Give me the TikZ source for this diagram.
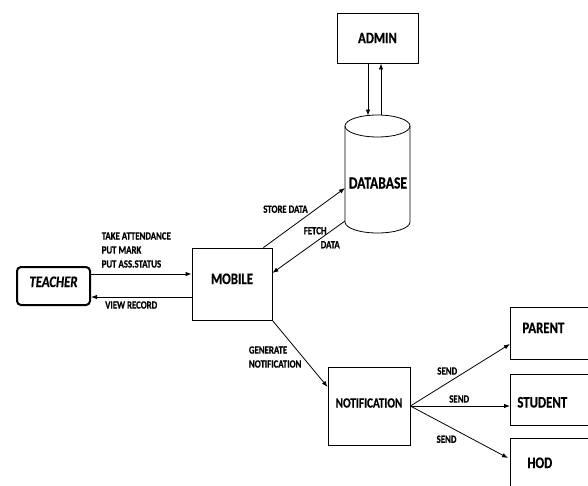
\documentclass[tikz,border=0pt]{standalone}
\usepackage{fontspec}
\setmainfont{Carlito}[FakeStretch=0.8, BoldFeatures={FakeBold=0.6}, BoldItalicFeatures={FakeBold=0.6}]
\usetikzlibrary{arrows.meta,calc}
\tikzset{
  box/.style={draw, line width=0.8, inner sep=0pt, font=\bfseries\fontsize{16}{18}\selectfont},
  arr/.style={line width=0.8, -{Latex[length=6pt,width=4.5pt]}},
  lbl/.style={font=\bfseries\fontsize{11}{14}\selectfont, inner sep=1pt},
}
\begin{document}
\begin{tikzpicture}[x=1pt,y=1pt,yscale=-1,xscale=1]
      \useasboundingbox (0,0) rectangle (588,485);
      \clip (0,0) rectangle (588,485);

      %Shape: Rounded Rect
      \node [box, rounded corners=4, line width=2, minimum width=73, minimum height=38, text height=10pt, text depth=8pt, font=\bfseries\itshape\fontsize{16}{18}\selectfont] (teacher) at (53.5,286) {TEACHER};
      %Shape: Rectangle
      \node [box, minimum width=80, minimum height=72, text height=10pt, text depth=10pt] (mobile) at (232,284) {MOBILE};
      %Shape: Rectangle
      \node [box, minimum width=81, minimum height=50] (admin) at (377.5,38) {ADMIN};
      %Shape: Rectangle
      \node [box, minimum width=82, minimum height=78, text height=9pt, text depth=6pt, font=\bfseries\fontsize{14}{16}\selectfont] (notif) at (369,406) {NOTIFICATION};
      %Shape: Rectangle
      \node [box, anchor=west, minimum width=100, minimum height=52, text width=76, inner xsep=12, text height=10pt, text depth=10pt, align=left] (parent) at (510,333) {PARENT};
      %Shape: Rectangle
      \node [box, anchor=west, minimum width=100, minimum height=51, text width=86, inner xsep=7, text height=16pt, text depth=0pt, align=left] (student) at (510,399.5) {STUDENT};
      %Shape: Rectangle
      \node [box, anchor=west, minimum width=100, minimum height=54, text width=66, inner xsep=17, text height=10pt, text depth=4pt, align=left] (hod) at (510,465) {HOD};

      %Shape: Can
      \draw [line width=0.8] (345,126) -- (345,222) arc [start angle=180, end angle=0, x radius=32.5, y radius=11] -- (410,126);
      \draw [line width=0.8] (377.5,126) ellipse [x radius=32.5, y radius=11];
      % Text Node
      \node [font=\bfseries\fontsize{17}{19}\selectfont] (db) at (378,183) {DATABASE};
      \coordinate (dbin) at (345,188);
      \coordinate (dbout) at (345,221);
      \coordinate (dbtopa) at (368,115.5);
      \coordinate (dbtopb) at (381,115);

      %Straight Lines
      \draw [arr] ($(teacher.east)+(0,-12)$) -- node [lbl, pos=0.45, above=5pt, align=left] {TAKE ATTENDANCE\\PUT MARK\\PUT ASS.STATUS} ($(mobile.west)+(0,-10)$);
      %Straight Lines
      \draw [arr] ($(mobile.west)+(0,13)$) -- node [lbl, below=3pt, pos=0.6] {VIEW RECORD} ($(teacher.east)+(0,11)$);
      %Straight Lines
      \draw [arr] ($(mobile.north east)+(-9,0)$) -- node [lbl, pos=0.56, anchor=south east] {STORE DATA} (dbin);
      %Straight Lines
      \draw [arr] (dbout) -- node [lbl, pos=0.32, align=left] {FETCH\\\hspace*{17pt}DATA} ($(mobile.east)+(0,-11)$);
      %Straight Lines
      \draw [arr] ($(admin.south)+(-9.5,0)$) -- (dbtopa);
      %Straight Lines
      \draw [arr] (dbtopb) -- ($(admin.south)+(3.5,0)$);
      %Straight Lines
      \draw [arr] (mobile.south east) -- node [lbl, pos=0.55, anchor=east, align=left] {GENERATE\\NOTIFICATION} ($(notif.west)+(0,-19)$);
      %Straight Lines
      \draw [arr] (notif.east) -- node [lbl, pos=0.37, above=7pt] {SEND} ($(parent.west)+(0,11)$);
      %Straight Lines
      \draw [arr] (notif.east) -- node [lbl, pos=0.49, above=2pt] {SEND} ($(student.west)+(0,6.5)$);
      %Straight Lines
      \draw [arr] (notif.east) -- node [lbl, pos=0.37, below=9pt] {SEND} ($(hod.west)+(-2,-7)$);
\end{tikzpicture}
\end{document}
